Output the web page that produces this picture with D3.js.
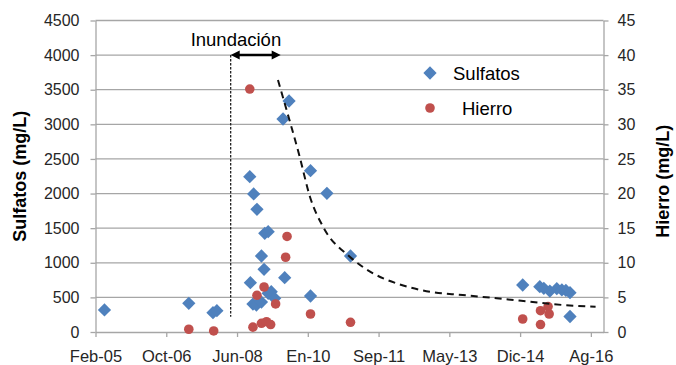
<!DOCTYPE html>
<html>
<head>
<meta charset="utf-8">
<script src="https://cdnjs.cloudflare.com/ajax/libs/d3/7.8.5/d3.min.js"></script>
<style>
  body { margin: 0; background: #fff; }
  svg { display: block; font-family: 'Liberation Sans', Arial, sans-serif; }
</style>
</head>
<body>
<div class="canvas"></div>
<script>
// data

const sulfatosDates = [
  '2005-05-05', '2007-04-20', '2007-11-11', '2007-12-14', '2008-09-18', '2008-09-23',
  '2008-10-21', '2008-11-18', '2009-01-23', '2009-02-21', '2008-12-26', '2009-01-17',
  '2008-10-15', '2008-11-13', '2008-12-26', '2009-02-21', '2009-03-19', '2009-04-17',
  '2009-07-11', '2009-06-27', '2009-08-17', '2010-02-15', '2010-02-15', '2010-07-04',
  '2011-01-20', '2015-01-19', '2015-06-13', '2015-07-17', '2015-09-06', '2015-11-04',
  '2015-12-17', '2016-01-20', '2016-02-24', '2016-02-24'
];
const sulfatosValues = [
  318, 415, 279, 308, 2244, 712,
  1994, 1773, 1426, 1449, 1098, 906,
  404, 390, 433, 559, 582, 487,
  784, 3077, 3337, 2330, 520, 2004,
  1098, 679, 654, 631, 592, 625,
  607, 600, 568, 224
];

const hierroDates = [
  '2007-04-20', '2007-11-17', '2008-09-18', '2008-10-15', '2008-11-18', '2009-01-17',
  '2008-12-26', '2009-02-07', '2009-03-14', '2009-04-25', '2009-07-19', '2009-07-31',
  '2010-02-15', '2011-01-20', '2015-01-19', '2015-06-19', '2015-06-19', '2015-08-22',
  '2015-08-31'
];
const hierroValues = [
  0.4, 0.15, 35.1, 0.7, 5.3, 6.5,
  1.26, 1.49, 1.08, 4.05, 10.8, 13.8,
  2.6, 1.4, 1.88, 1.08, 3.08, 3.68,
  2.6
];

// dashed trend line (sulfatos)
const trendDates = [
  '2009-05-15', '2009-07-10', '2009-11-15', '2010-02-10', '2010-06-01', '2011-01-14',
  '2011-07-30', '2012-02-14', '2012-11-23', '2013-08-29', '2014-06-12', '2015-03-20',
  '2015-12-26', '2016-09-28'
];
const trendValues = [
  3640, 3308, 2532, 1955, 1521, 1088,
  848, 703, 582, 534, 487, 438,
  390, 365
];

const xTickDates = [
  '2005-02-18', '2006-10-11', '2008-06-02', '2010-01-23',
  '2011-09-15', '2013-05-07', '2014-12-28', '2016-08-19'
];
const xTickLabels = ['Feb-05', 'Oct-06', 'Jun-08', 'En-10', 'Sep-11', 'May-13', 'Dic-14', 'Ag-16'];
const xDomain = ['2005-02-18', '2016-12-04'];

const leftTicks = [0, 500, 1000, 1500, 2000, 2500, 3000, 3500, 4000, 4500];
const rightTicks = [0, 5, 10, 15, 20, 25, 30, 35, 40, 45];

const floodPeriod = ['2008-04-09', '2009-06-07'];
const floodLabel = 'Inundación';
const floodTop = 4000;
const floodBottom = 220;

const seriesNames = ['Sulfatos', 'Hierro'];
const leftTitle = 'Sulfatos (mg/L)';
const rightTitle = 'Hierro (mg/L)';

const blue = '#4f81bd';
const red = '#c0504d';
const gridColor = '#a6a6a6';

const parse = d3.timeParse('%Y-%m-%d');

const width = 676;
const height = 365;
const plot = { left: 95.5, right: 603.5, top: 20.5, bottom: 332 };

const svg = d3
  .select('.canvas')
  .append('svg')
  .attr('width', width)
  .attr('height', height);

// scales
const x = d3
  .scaleTime()
  .domain(xDomain.map(parse))
  .range([plot.left, plot.right]);
const yLeft = d3
  .scaleLinear()
  .domain([0, 4500])
  .range([plot.bottom, plot.top]);
const yRight = d3
  .scaleLinear()
  .domain([0, 45])
  .range([plot.bottom, plot.top]);

// gridlines
svg
  .append('g')
  .selectAll('line')
  .data(leftTicks.slice(1))
  .enter()
  .append('line')
  .attr('x1', plot.left)
  .attr('x2', plot.right)
  .attr('y1', d => yLeft(d))
  .attr('y2', d => yLeft(d))
  .attr('stroke', gridColor)
  .attr('stroke-width', 1.3);

// axes
const styleAxis = (g, size) => {
  g.select('.domain').attr('stroke', gridColor).attr('stroke-width', 1.3);
  g.selectAll('.tick line').attr('stroke', gridColor).attr('stroke-width', 1.3);
  g.selectAll('.tick text')
    .attr('fill', '#262626')
    .style('font-size', size + 'px')
    .style('font-family', "'Liberation Sans', Arial, sans-serif");
};

const xAxis = d3
  .axisBottom(x)
  .tickValues(xTickDates.map(parse))
  .tickFormat((d, i) => xTickLabels[i])
  .tickSize(5)
  .tickSizeOuter(0)
  .tickPadding(13);
const xAxisGroup = svg
  .append('g')
  .attr('transform', `translate(0, ${plot.bottom})`)
  .call(xAxis);
styleAxis(xAxisGroup, 16.5);

const yAxisLeft = d3
  .axisLeft(yLeft)
  .tickValues(leftTicks)
  .tickFormat(d3.format('d'))
  .tickSize(5)
  .tickSizeOuter(0)
  .tickPadding(11);
const yLeftGroup = svg
  .append('g')
  .attr('transform', `translate(${plot.left}, 0)`)
  .call(yAxisLeft);
styleAxis(yLeftGroup, 16);

const yAxisRight = d3
  .axisRight(yRight)
  .tickValues(rightTicks)
  .tickFormat(d3.format('d'))
  .tickSize(5)
  .tickSizeOuter(0)
  .tickPadding(9);
const yRightGroup = svg
  .append('g')
  .attr('transform', `translate(${plot.right}, 0)`)
  .call(yAxisRight);
styleAxis(yRightGroup, 16);

// axis titles
svg
  .append('text')
  .attr('transform', `translate(26, ${(plot.top + plot.bottom) / 2}) rotate(-90)`)
  .attr('text-anchor', 'middle')
  .style('font-size', '18px')
  .style('font-weight', 'bold')
  .attr('fill', '#000')
  .text(leftTitle);

svg
  .append('text')
  .attr('transform', `translate(669, ${(plot.top + plot.bottom) / 2 + 5}) rotate(-90)`)
  .attr('text-anchor', 'middle')
  .style('font-size', '18px')
  .style('font-weight', 'bold')
  .attr('fill', '#000')
  .text(rightTitle);

// flood annotation
const floodX0 = x(parse(floodPeriod[0]));
const floodX1 = x(parse(floodPeriod[1]));

svg
  .append('line')
  .attr('x1', floodX0)
  .attr('x2', floodX0)
  .attr('y1', yLeft(floodTop))
  .attr('y2', yLeft(floodBottom))
  .attr('stroke', '#222')
  .attr('stroke-width', 1.3)
  .attr('stroke-dasharray', '2.5,1.5');

svg
  .append('line')
  .attr('x1', floodX0 + 6)
  .attr('x2', floodX1 - 6)
  .attr('y1', yLeft(floodTop))
  .attr('y2', yLeft(floodTop))
  .attr('stroke', '#000')
  .attr('stroke-width', 2.5);

const arrowHead = (tipX, dir) => {
  const yy = yLeft(floodTop);
  svg
    .append('path')
    .attr('d', `M${tipX},${yy} L${tipX + dir * 9},${yy - 4.5} L${tipX + dir * 9},${yy + 4.5} Z`)
    .attr('fill', '#000');
};
arrowHead(floodX0, 1);
arrowHead(floodX1, -1);

svg
  .append('text')
  .attr('x', floodX0 - 40)
  .attr('y', 46)
  .style('font-size', '18.5px')
  .attr('fill', '#000')
  .text(floodLabel);

// points: sulfatos (diamonds, left axis)
const diamond = d3.symbol(d3.symbolSquare, 88);
svg
  .append('g')
  .selectAll('path')
  .data(sulfatosDates)
  .enter()
  .append('path')
  .attr('d', diamond)
  .attr('transform', (d, i) => `translate(${x(parse(d))}, ${yLeft(sulfatosValues[i])}) rotate(45)`)
  .attr('fill', blue);

// points: hierro (circles, right axis)
svg
  .append('g')
  .selectAll('circle')
  .data(hierroDates)
  .enter()
  .append('circle')
  .attr('cx', d => x(parse(d)))
  .attr('cy', (d, i) => yRight(hierroValues[i]))
  .attr('r', 4.8)
  .attr('fill', red);

// trend line
const trend = trendDates.map((d, i) => ({ date: parse(d), value: trendValues[i] }));
const line = d3
  .line()
  .curve(d3.curveMonotoneX)
  .x(d => x(d.date))
  .y(d => yLeft(d.value));

svg
  .append('path')
  .datum(trend)
  .attr('d', line)
  .attr('fill', 'none')
  .attr('stroke', '#111')
  .attr('stroke-width', 2)
  .attr('stroke-dasharray', '7,5');

// legend
const legend = svg.append('g');
legend
  .append('path')
  .attr('d', diamond)
  .attr('transform', 'translate(430, 73) rotate(45)')
  .attr('fill', blue);
legend
  .append('circle')
  .attr('cx', 430)
  .attr('cy', 108)
  .attr('r', 4.8)
  .attr('fill', red);
legend
  .append('text')
  .attr('x', 453)
  .attr('y', 80)
  .style('font-size', '18.5px')
  .attr('fill', '#000')
  .text(seriesNames[0]);
legend
  .append('text')
  .attr('x', 462)
  .attr('y', 115)
  .style('font-size', '18.5px')
  .attr('fill', '#000')
  .text(seriesNames[1]);
</script>
</body>
</html>
